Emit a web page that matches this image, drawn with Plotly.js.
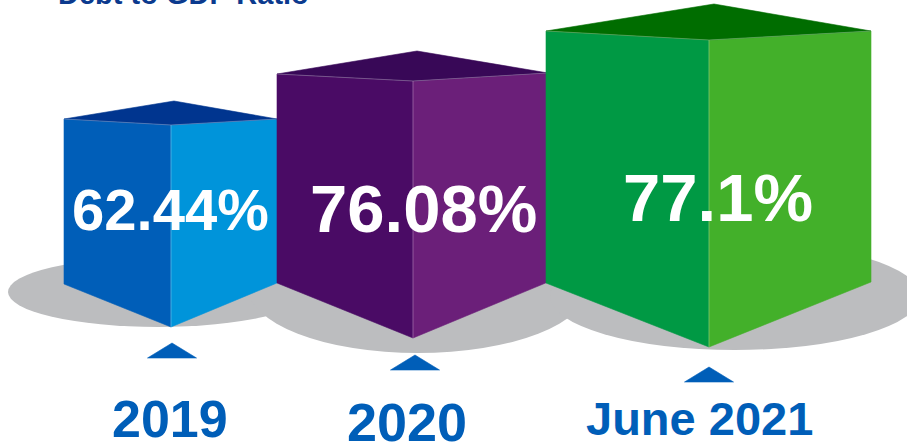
<!DOCTYPE html>
<html><head><meta charset="utf-8">
<script src="https://cdn.plot.ly/plotly-3.0.1.min.js"></script>
<style>html,body{margin:0;padding:0;background:#fff;overflow:hidden}#chart{width:907px;height:445px}</style>
</head><body><div id="chart"></div>
<script>
// ---- data ----
const chartTitle = 'Debt to GDP Ratio';
const categories = ['2019', '2020', 'June 2021'];
const values = [62.44, 76.08, 77.1];
const valueLabels = values.map(v => v + '%');

// ---- layout geometry (pixel drawing frame) ----
const W = 907, H = 445;
const boxGeom = [
  {xl:64,  xm:171, xr:277, yl:119, yr:119, yf:125, xb:174, yb:101, ybl:284, ybr:283, ybf:327},
  {xl:277, xm:413, xr:548, yl:74,  yr:73,  yf:81,  xb:417, yb:51,  ybl:283, ybr:282, ybf:338},
  {xl:546, xm:709, xr:871, yl:31,  yr:31,  yf:40,  xb:714, yb:4,   ybl:283, ybr:282, ybf:347}
];
const shadowGeom = [
  {cx:158, cy:292, rx:150, ry:35},
  {cx:418, cy:287, rx:170, ry:66},
  {cx:735, cy:296, rx:185, ry:54}
];
const faceColors = [
  {left:'#005EB8', right:'#0094DA', top:'#00358F'},
  {left:'#4A0B65', right:'#6B1F79', top:'#380857'},
  {left:'#009944', right:'#43B02A', top:'#006D00'}
];
const labelGeom = [{x:170.5, y:209.5, size:58}, {x:423.5, y:208, size:67}, {x:718, y:197.5, size:67}];
const yearGeom = [{x:170, y:419, size:52}, {x:406.5, y:422, size:54}, {x:699.5, y:418, size:47}];
const pointerGeom = [{x:172, y0:343, y1:358, hw:24.5}, {x:415, y0:355, y1:370, hw:24.5}, {x:709, y0:367, y1:382, hw:24.5}];
const shadowColor = '#BCBDBF';
const yearColor = '#005EB8';
const titleColor = '#0B3A8E';
const FONT = 'Liberation Sans, Arial, Helvetica, sans-serif';

const traces = [];
function poly(xs, ys, color) {
  traces.push({type:'scatter', mode:'lines', x:xs.concat([xs[0]]), y:ys.concat([ys[0]]),
    fill:'toself', fillcolor:color, line:{width:0.6, color:color}, hoverinfo:'skip', showlegend:false});
}
categories.forEach((c, i) => {
  const g = boxGeom[i], col = faceColors[i];
  poly([g.xl, g.xm, g.xm, g.xl], [g.yl, g.yf, g.ybf, g.ybl], col.left);
  poly([g.xm, g.xr, g.xr, g.xm], [g.yf, g.yr, g.ybr, g.ybf], col.right);
  poly([g.xl, g.xb, g.xr, g.xm], [g.yl, g.yb, g.yr, g.yf], col.top);
  traces.push({type:'scatter', mode:'lines', x:[g.xl, g.xm, g.xr, null, g.xm, g.xm], y:[g.yl, g.yf, g.yr, null, g.yf, g.ybf],
    line:{width:1, color:'rgba(255,255,255,0.28)'}, hoverinfo:'skip', showlegend:false});
  const p = pointerGeom[i];
  poly([p.x - p.hw, p.x, p.x + p.hw], [p.y1, p.y0, p.y1], yearColor);
});

const shapes = shadowGeom.map(s => ({type:'circle', xref:'x', yref:'y', layer:'below',
  x0:s.cx - s.rx, x1:s.cx + s.rx, y0:s.cy - s.ry, y1:s.cy + s.ry, fillcolor:shadowColor, line:{width:0}}));

const annotations = [];
categories.forEach((c, i) => {
  const l = labelGeom[i];
  annotations.push({x:l.x, y:l.y, xref:'x', yref:'y', text:'<b>' + valueLabels[i] + '</b>', showarrow:false,
    xanchor:'center', yanchor:'middle', font:{family:FONT, size:l.size, color:'#FFFFFF'}});
  const yg = yearGeom[i];
  annotations.push({x:yg.x, y:yg.y, xref:'x', yref:'y', text:'<b>' + c + '</b>', showarrow:false,
    xanchor:'center', yanchor:'middle', font:{family:FONT, size:yg.size, color:yearColor}});
});
annotations.push({x:56 / W, y:1 + 6 / H, xref:'paper', yref:'paper', text:'<b>' + chartTitle + '</b>', showarrow:false,
  xanchor:'left', yanchor:'middle', font:{family:FONT, size:29, color:titleColor}});

Plotly.newPlot('chart', traces, {
  width:W, height:H, margin:{l:0, r:0, t:0, b:0}, paper_bgcolor:'#FFFFFF', plot_bgcolor:'#FFFFFF',
  xaxis:{range:[0, W], visible:false, fixedrange:true},
  yaxis:{range:[H, 0], visible:false, fixedrange:true},
  shapes:shapes, annotations:annotations, showlegend:false, hovermode:false
}, {staticPlot:true, displayModeBar:false});
</script></body></html>
